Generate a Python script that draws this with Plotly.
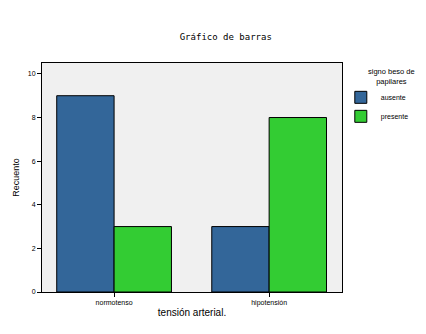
import plotly.graph_objects as go

categories = ["normotenso", "hipotensión"]
ausente = [9, 3]
presente = [3, 8]
series_names = ["ausente", "presente"]
colors = ["#336699", "#33CC33"]
legend_title = "signo beso de<br>papilares"

fig = go.Figure()
for name, vals, col in zip(series_names, [ausente, presente], colors):
    fig.add_trace(go.Bar(x=categories, y=vals, name=name,
                         marker=dict(color=col, line=dict(color="#000000", width=1))))

fig.update_layout(
    width=426, height=334,
    margin=dict(l=42, r=84, t=63, b=42, autoexpand=False),
    paper_bgcolor="white", plot_bgcolor="#F0F0F0",
    barmode="group", bargap=0.26, bargroupgap=0,
    font=dict(family="Liberation Sans, Arial", size=7, color="black"),
    title=dict(text="Gráfico de barras", x=0.53, xanchor="center", y=0.89, yanchor="middle",
               font=dict(size=9, family="DejaVu Sans Mono, monospace")),
    showlegend=True,
    legend=dict(xref="container", yref="container", x=0.80, y=0.752, xanchor="left", yanchor="top",
                font=dict(size=7), bgcolor="rgba(0,0,0,0)",
                itemwidth=30, tracegroupgap=0),
    annotations=[dict(text=legend_title, xref="paper", yref="paper", x=1.165, y=0.99,
                      xanchor="center", yanchor="top", showarrow=False, align="center",
                      font=dict(size=7.5))],
)
fig.update_xaxes(range=[-0.465, 1.47], showline=True, linecolor="black", linewidth=1, mirror=True,
                 ticks="outside", ticklen=4, tickcolor="black", showgrid=False,
                 title=dict(text="tensión arterial.", font=dict(size=10), standoff=2))
fig.update_yaxes(range=[0, 10.5], tickvals=[0, 2, 4, 6, 8, 10], showline=True, linecolor="black",
                 linewidth=1, mirror=True, ticks="outside", ticklen=4, tickcolor="black",
                 showgrid=False, zeroline=False,
                 title=dict(text="Recuento", font=dict(size=9), standoff=6))
fig.write_html("out.html")
